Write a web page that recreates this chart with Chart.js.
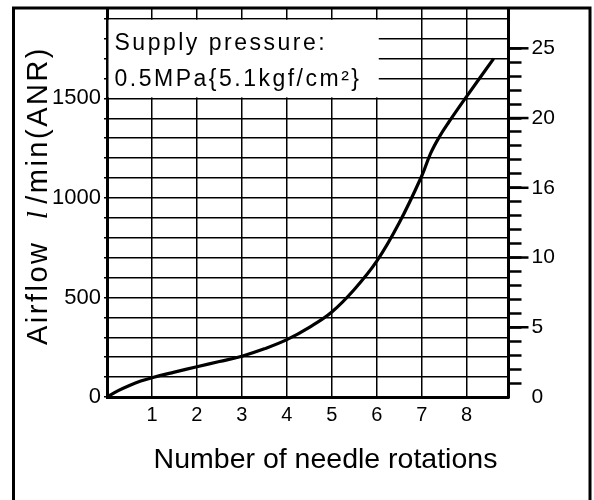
<!DOCTYPE html>
<html lang="en">
<head>
<meta charset="UTF-8">
<title>Airflow vs number of needle rotations</title>
<script src="https://cdn.jsdelivr.net/npm/chart.js@4.4.1/dist/chart.umd.min.js"></script>
<style>
    body { margin: 0; background: #fff; }
    canvas { display: block; }
</style>
</head>
<body>
<canvas id="myChart" width="594" height="500"></canvas>

<script>
// curve
var rotations = [0, 0.25, 0.5, 0.75, 1, 1.5, 2, 2.5, 3, 3.5, 4, 4.5, 5, 5.5, 6, 6.5, 7, 7.2, 7.4, 7.6, 8, 8.6];
var airflow   = [0, 32, 58, 80, 97, 125, 152, 178, 205, 242, 288, 350, 427, 540, 682, 875, 1110, 1225, 1310, 1380, 1510, 1700];

// axes
var xTicks = [0, 1, 2, 3, 4, 5, 6, 7, 8];
var leftTicks = [0, 100, 200, 300, 400, 500, 600, 700, 800, 900, 1000, 1100, 1200, 1300, 1400, 1500, 1600, 1700, 1800, 1900];
var leftLabels = [0, 500, 1000, 1500];
var rightTicks = [0, 1, 2, 3, 4, 5, 6, 7, 8, 9, 10, 11, 12, 13, 14, 15, 16, 17, 18, 19, 20, 21, 22, 23, 24, 25];
var rightMajor = [5, 10, 15, 20, 25];
var rightLabelValues = [0, 5, 10, 15, 20, 25];
var rightLabelTexts = ['0', '5', '10', '16', '20', '25'];

var xTitle = 'Number of needle rotations';
var noteLines = ['Supply pressure:', '0.5MPa{5.1kgf/cm\u00B2}'];

var FONT = '"Liberation Sans", Arial, sans-serif';

function noPadding(scale) {
    scale.paddingTop = 0;
    scale.paddingBottom = 0;
    scale.paddingLeft = 0;
    scale.paddingRight = 0;
}

var decor = {
    id: 'decor',
    beforeDatasetsDraw: function(chart) {
        var ctx = chart.ctx;
        var x = chart.scales.x, y = chart.scales.y;
        var left = chart.chartArea.left + 1.5;
        var right = x.getPixelForValue(6) + 2;
        var top = y.getPixelForValue(1900) + 1;
        var bottom = y.getPixelForValue(1500) - 1;
        ctx.save();
        ctx.fillStyle = '#fff';
        ctx.fillRect(left, top, right - left, bottom - top);
        ctx.fillStyle = '#000';
        ctx.font = '23px ' + FONT;
        ctx.letterSpacing = '2.5px';
        ctx.textAlign = 'left';
        ctx.textBaseline = 'alphabetic';
        ctx.fillText(noteLines[0], left + 6, 50);
        ctx.fillText(noteLines[1], left + 6, 86);
        ctx.restore();
    },
    afterDraw: function(chart) {
        var ctx = chart.ctx;
        var area = chart.chartArea;
        var y2 = chart.scales.y2;
        ctx.save();
        // longer ticks on the right scale
        ctx.strokeStyle = '#000';
        ctx.lineWidth = 2.5;
        rightMajor.forEach(function(v) {
            var py = y2.getPixelForValue(v);
            ctx.beginPath();
            ctx.moveTo(area.right, py);
            ctx.lineTo(area.right + 20, py);
            ctx.stroke();
        });
        // outer frame
        ctx.lineWidth = 3;
        ctx.strokeRect(13.5, 8, 576.5, 500);

        // x title
        ctx.fillStyle = '#000';
        ctx.font = '28.5px ' + FONT;
        ctx.textAlign = 'center';
        ctx.textBaseline = 'alphabetic';
        ctx.fillText(xTitle, 325.5, 468);

        // y title, read bottom to top
        ctx.translate(47, 345);
        ctx.rotate(-Math.PI / 2);
        ctx.textAlign = 'left';
        ctx.letterSpacing = '2.5px';
        ctx.font = '29px ' + FONT;
        var pos = 0;
        ctx.fillText('Airflow', pos, 0);
        pos += ctx.measureText('Airflow  ').width;
        ctx.font = 'italic 29px "Liberation Serif", serif';
        ctx.fillText('l', pos, 0);
        pos += ctx.measureText('l').width + 5;
        ctx.font = '29px ' + FONT;
        ctx.fillText('/min(ANR)', pos, 0);
        ctx.restore();
    }
};

var points = [];
for (var i = 0; i < rotations.length; i++) {
    points.push({x: rotations[i], y: airflow[i]});
}

var myChart = new Chart(document.getElementById('myChart'), {
    type: 'line',
    data: {
        datasets: [{
            data: points,
            borderColor: '#000',
            borderWidth: 3.2,
            pointRadius: 0,
            tension: 0.4,
            fill: false
        }]
    },
    options: {
        responsive: false,
        animation: false,
        events: [],
        layout: { padding: { top: 8, left: 0, right: 0, bottom: 0 } },
        plugins: {
            legend: { display: false },
            tooltip: { enabled: false }
        },
        scales: {
            x: {
                type: 'linear',
                min: 0,
                max: 8.93,
                afterBuildTicks: function(scale) {
                    scale.ticks = xTicks.map(function(v) { return {value: v}; });
                },
                afterFit: function(scale) {
                    scale.height = 103;
                    noPadding(scale);
                },
                grid: { color: '#000', lineWidth: 1.5, drawTicks: false },
                border: { display: true, color: '#000', width: 3 },
                ticks: {
                    color: '#000',
                    font: { family: FONT, size: 20 },
                    padding: 6,
                    maxRotation: 0,
                    autoSkip: false,
                    callback: function(v) { return v === 0 ? '' : String(v); }
                }
            },
            y: {
                type: 'linear',
                position: 'left',
                min: 0,
                max: 1954,
                afterBuildTicks: function(scale) {
                    scale.ticks = leftTicks.map(function(v) { return {value: v}; });
                },
                afterFit: function(scale) {
                    scale.width = 107;
                    noPadding(scale);
                },
                grid: { color: '#000', lineWidth: 1.5, tickLength: 3, tickWidth: 1.5 },
                border: { display: true, color: '#000', width: 3 },
                ticks: {
                    color: '#000',
                    font: { family: FONT, size: 22 },
                    padding: 3,
                    autoSkip: false,
                    callback: function(v) { return leftLabels.indexOf(v) >= 0 ? String(v) : ''; }
                }
            },
            y2: {
                type: 'linear',
                position: 'right',
                min: 0,
                max: 27.89,
                afterBuildTicks: function(scale) {
                    scale.ticks = rightTicks.map(function(v) { return {value: v}; });
                },
                afterFit: function(scale) {
                    scale.width = 85.5;
                    noPadding(scale);
                },
                grid: {
                    drawOnChartArea: false,
                    tickLength: 13,
                    tickWidth: 2.5,
                    tickColor: function(c) { return c.tick && c.tick.value === 0 ? 'rgba(0,0,0,0)' : '#000'; }
                },
                border: { display: true, color: '#000', width: 3 },
                ticks: {
                    color: '#000',
                    font: { family: FONT, size: 21 },
                    padding: 10,
                    autoSkip: false,
                    callback: function(v) {
                        var k = rightLabelValues.indexOf(v);
                        return k >= 0 ? rightLabelTexts[k] : '';
                    }
                }
            }
        }
    },
    plugins: [decor]
});
</script>
</body>
</html>
